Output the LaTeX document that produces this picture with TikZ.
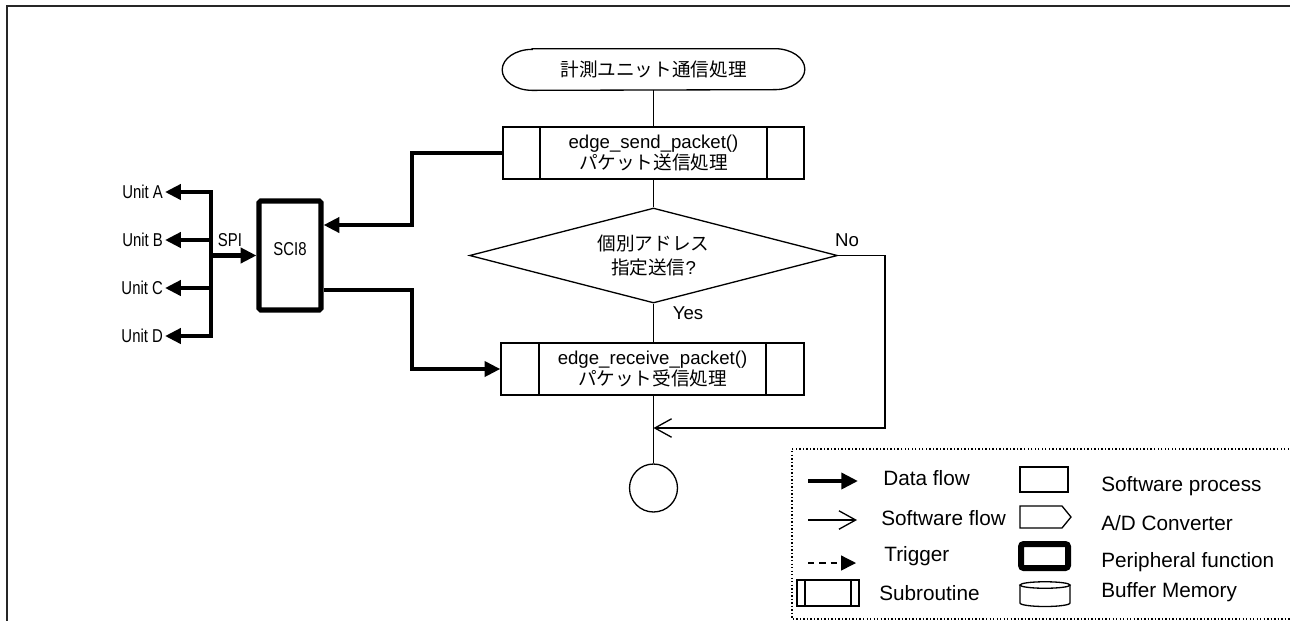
\documentclass[tikz,border=0pt]{standalone}
\usepackage{fontspec}
\usepackage{graphicx}
\setmainfont{Liberation Sans}
\newfontfamily\jp{Noto Sans CJK JP}
\usetikzlibrary{arrows.meta,shapes.geometric,calc}

\newcommand\mainsz{\fontsize{10.6pt}{12.5pt}\selectfont}
\newcommand\legsz{\fontsize{11.8pt}{14pt}\selectfont}
\newcommand\nar[1]{\scalebox{0.8}[1]{#1}}

\tikzset{
  thin line/.style={line width=0.75pt},
  subr/.style={draw, thin line, rectangle, inner sep=0pt, align=center,
    font=\mainsz,
    path picture={
      \draw[thin line]
        ([xshift=#1]path picture bounding box.north west) -- ([xshift=#1]path picture bounding box.south west)
        ([xshift=-#1]path picture bounding box.north east) -- ([xshift=-#1]path picture bounding box.south east);
    }},
  subr/.default=0.74cm,
  decision/.style={draw, thin line, diamond, aspect=3.874, minimum width=7.36cm,
    minimum height=1.9cm, inner sep=0pt, align=center,
    font=\fontsize{10.6pt}{14.2pt}\selectfont},
  periph/.style={draw, rectangle, line width=2.9pt, rounded corners=1pt, inner sep=0pt},
  data/.style={line width=2.3pt, -{Triangle[length=9pt,width=8.5pt]}},
  swflow/.style={thin line, -{Straight Barb[length=9.5pt,width=10.5pt]}},
  lbl/.style={font=\mainsz, inner sep=1pt},
  legtxt/.style={font=\legsz, anchor=west, inner sep=0pt},
}

\begin{document}
\begin{tikzpicture}[x=0.02cm, y=-0.02cm]
\useasboundingbox (0,0) rectangle (1290,620);

% outer frame
\draw[line width=1.1pt, draw=black!85] (7,640) -- (7,6) -- (1310,6);

% ---- main flow ----
\node[rectangle, minimum width=6.04cm, minimum height=0.82cm, inner sep=0pt, font=\mainsz]
  (term) at (653.5,69.5) {\jp 計測ユニット通信処理};
\draw[thin line]
  ([xshift=0.6cm]term.north west) -- ([xshift=-0.6cm]term.north east)
  arc[start angle=90, end angle=-90, x radius=0.6cm, y radius=0.41cm]
  -- ([xshift=0.6cm]term.south west)
  arc[start angle=270, end angle=90, x radius=0.6cm, y radius=0.41cm] -- cycle;

\node[subr, minimum width=6.02cm, minimum height=1.04cm] (s1) at (653.5,153)
  {edge\_send\_packet()\\{\jp パケット送信処理}};

\node[decision] (dec) at (653.5,255.5) {{\jp 個別アドレス}\\{\jp 指定送信}?};

\node[subr=0.76cm, minimum width=6.06cm, minimum height=1.04cm] (s2) at (652.5,369)
  {edge\_receive\_packet()\\{\jp パケット受信処理}};

\node[draw, thin line, circle, minimum size=0.96cm, inner sep=0pt] (fin) at (653.5,488) {};

\node[lbl] (yes) at (688,313) {Yes};
\node[lbl] (no) at (847,240) {No};

\coordinate (nocorner) at (885,428);
\coordinate (merge) at (653.5,428);

\draw[thin line] (term) -- (s1);
\draw[thin line] (s1) -- (dec);
\draw[thin line] (dec) -- (s2.north -| dec.south);
\draw[thin line] (s2.south -| fin.north) -- (fin);
\draw[swflow] (dec.east) -| (nocorner) -- (merge);

% ---- serial interface ----
\node[periph, minimum width=1.24cm, minimum height=2.18cm] (sci) at (290,255.5)
  {\raisebox{7pt}{\mainsz\nar{SCI8}}};

\node[lbl, anchor=east] (ua) at (165,192) {\nar{Unit A}};
\node[lbl, anchor=east] (ub) at (165,240) {\nar{Unit B}};
\node[lbl, anchor=east] (uc) at (165,288) {\nar{Unit C}};
\node[lbl, anchor=east] (ud) at (165,336) {\nar{Unit D}};
\node[lbl] (spi) at (230,240) {\nar{SPI}};

\coordinate (busA) at (211,192);
\coordinate (busB) at (211,240);
\coordinate (busC) at (211,288);
\coordinate (busD) at (211,336);
\coordinate (busS) at (211,255.5);

\draw[data, {Triangle[length=9pt,width=8.5pt]}-{Triangle[length=9pt,width=8.5pt]}]
  (ua.east) -- (busA) -- (busD) -- (ud.east);
\draw[data] (busB) -- (ub.east);
\draw[data] (busC) -- (uc.east);
\draw[data] (busS) -- (sci.west);

\coordinate (jA) at (412,225);
\coordinate (jB) at (412,290);
\draw[data] (s1.west) -| (jA) -- (jA -| sci.east);
\draw[data] (jB -| sci.east) -- (jB) |- (s2.west);

% ---- legend ----
\draw[line width=0.8pt, dash pattern=on 0.8pt off 1.2pt] (1310,449) -- (792,449) -- (792,619) -- (1310,619);

\draw[line width=2.8pt, -{Triangle[length=9.5pt,width=9pt]}] (808,481) -- (858,481);
\draw[swflow] (808,520) -- (857,520);
\draw[thin line, dash pattern=on 3.6pt off 2.8pt, -{Triangle[length=8.5pt,width=8.5pt]}] (808,563) -- (856,563);
\node[subr=0.16cm, minimum width=1.24cm, minimum height=0.52cm] (lgsub) at (828,593) {};

\node[legtxt] (t1) at (883,478) {Data flow};
\node[legtxt] (t2) at (881,518) {Software flow};
\node[legtxt] (t3) at (884,556) {Trigger};
\node[legtxt] (t4) at (879,593) {Subroutine};

\node[draw, thin line, rectangle, minimum width=0.96cm, minimum height=0.5cm, inner sep=0pt]
  (lgproc) at (1044,479.5) {};
\draw[thin line] (1020,506) -- (1062,506) -- (1071,517) -- (1062,528) -- (1020,528) -- cycle;
\node[periph, line width=3.4pt, rounded corners=1.5pt, minimum width=0.94cm, minimum height=0.48cm]
  (lgper) at (1044.5,556) {};
\draw[thin line] (1045,585) ellipse[x radius=0.5cm, y radius=0.065cm];
\draw[thin line] (1020,585) -- (1020,603)
  arc[start angle=180, end angle=360, x radius=0.5cm, y radius=0.07cm] -- (1070,585);

\node[legtxt] (t5) at (1101,486) {Software process};
\node[legtxt] (t6) at (1101,523) {A/D Converter};
\node[legtxt] (t7) at (1101,562) {Peripheral function};
\node[legtxt] (t8) at (1101,592) {Buffer Memory};
\end{tikzpicture}
\end{document}
